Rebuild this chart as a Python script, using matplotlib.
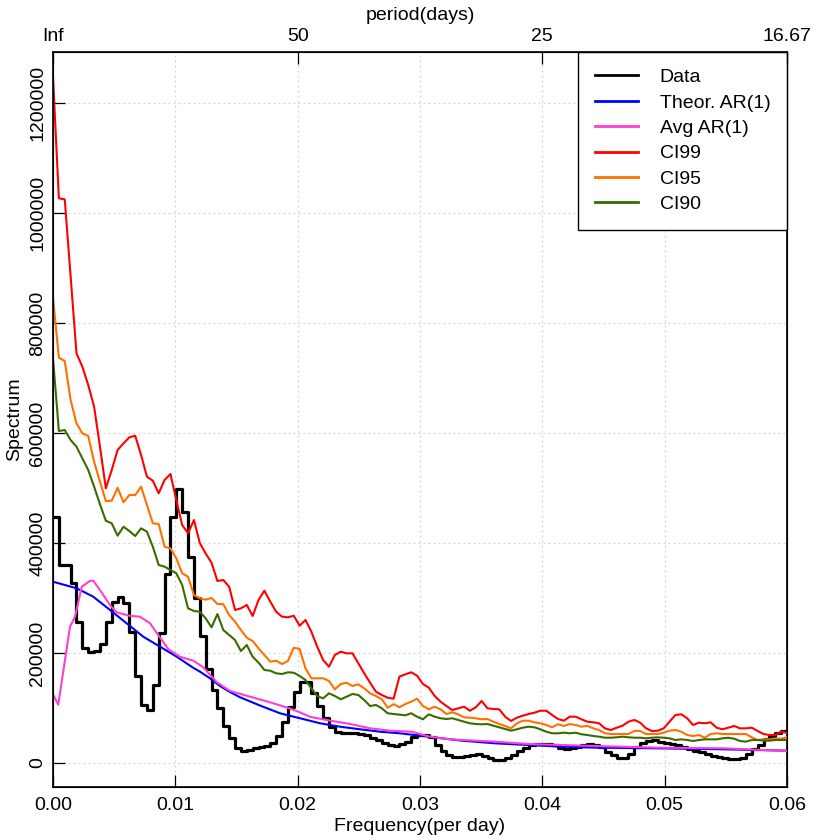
import numpy as np
import matplotlib
matplotlib.use('Agg')
import matplotlib.pyplot as plt

plt.rcParams['font.family'] = ['Liberation Sans', 'DejaVu Sans']
plt.rcParams['font.size'] = 14

# frequency grid (per day)
freq = np.round(np.arange(126) * 0.00048, 5)

data = [447800, 360000, 360000, 328000, 256900, 208500, 202400, 204000, 216000, 256900,
        292100, 301200, 291500, 237600, 158200, 105500, 96400, 141800, 235800, 343100,
        446700, 497600, 456900, 374000, 299400, 231500, 170900, 132700, 99400, 67300,
        44900, 27900, 21800, 23600, 26700, 28500, 30900, 36900, 49600, 74000,
        102400, 129600, 146700, 146700, 127800, 103600, 81300, 66000, 56900, 54000,
        54000, 54000, 52700, 50900, 46000, 41800, 35800, 32700, 30900, 34500,
        38800, 46700, 50900, 50900, 47000, 33000, 22000, 14000, 11500, 11500,
        13000, 15000, 15500, 13000, 9000, 5500, 5500, 9000, 14000, 22000,
        28000, 32000, 34500, 34500, 34500, 32000, 27000, 26000, 27000, 29000,
        33000, 35000, 33000, 29000, 20600, 14500, 9700, 9700, 15800, 28500,
        35800, 40000, 41800, 38800, 36900, 34500, 32700, 28500, 24900, 22400,
        19400, 15800, 13300, 11500, 8500, 7300, 6700, 8500, 15800, 24900,
        32700, 43600, 49100, 55100, 58700, 58700]

ci99 = [1247000, 1026700, 1024800, 885000, 744900, 720500, 687200, 647800, 575000, 499400,
        532700, 569000, 581200, 592100, 595000, 560000, 520500, 513200, 490300, 514500,
        525400, 478100, 432700, 417600, 441800, 400000, 381000, 364000, 331000, 332700,
        320500, 278200, 281200, 287300, 267300, 296300, 313300, 293300, 275100, 266000,
        264900, 267800, 249600, 260000, 238700, 211500, 187300, 175100, 196400, 202400,
        199400, 199400, 181300, 163100, 146000, 129600, 123600, 118700, 116900, 157000,
        161200, 164900, 158800, 143600, 137000, 121800, 111500, 103600, 96400, 99400,
        102400, 95100, 101300, 112700, 99400, 98200, 97600, 84200, 76400, 82400,
        86000, 89100, 91500, 95100, 95100, 87300, 80000, 76900, 84200, 84200,
        79500, 75100, 74000, 72200, 63000, 60000, 64200, 67800, 75100, 78200,
        73300, 63000, 58200, 58700, 63000, 75100, 87300, 88500, 81300, 69100,
        73300, 72200, 74000, 64200, 61300, 64200, 67300, 63000, 63000, 64200,
        58200, 52700, 50900, 50900, 56900, 55100]

ci95 = [846000, 736900, 730900, 660000, 617600, 599400, 594500, 547800, 511400, 476300,
        476900, 500500, 474000, 487300, 487300, 502400, 469100, 435800, 434500, 393300,
        390300, 372200, 344900, 338700, 305400, 299400, 297000, 300000, 289100, 288800,
        269100, 256900, 241800, 227800, 221800, 208500, 196400, 184200, 186000, 180000,
        185500, 209600, 207300, 172200, 154000, 154000, 154000, 149100, 134000, 143600,
        146000, 140000, 143100, 135800, 126700, 121800, 115800, 100500, 107000, 101300,
        107300, 111500, 116900, 103600, 97600, 102400, 97600, 89100, 92200, 88500,
        83100, 82400, 81300, 79500, 80000, 75100, 70900, 67300, 63000, 72200,
        76900, 76900, 74000, 72200, 69100, 64900, 70400, 67300, 70900, 69100,
        66000, 67500, 63000, 60000, 54000, 52700, 52700, 52700, 52700, 58200,
        58200, 52700, 52700, 52700, 55100, 58700, 60000, 56900, 50900, 49100,
        50900, 46000, 52700, 54000, 52700, 52700, 52700, 52700, 52700, 46700,
        41800, 43000, 43000, 44800, 44200, 46700]

ci90 = [735800, 603600, 605400, 587300, 575100, 554000, 532700, 502400, 470300, 440500,
        435800, 413300, 429600, 421800, 412700, 426700, 420500, 393300, 360000, 357000,
        350900, 344900, 323600, 281200, 276400, 275000, 263000, 246700, 270900, 241800,
        232700, 223600, 203600, 214500, 193300, 182400, 169100, 167800, 163100, 161800,
        164900, 164200, 158200, 150900, 135800, 121800, 117600, 126700, 121800, 115800,
        120600, 125500, 123600, 114500, 103600, 105500, 99400, 90400, 89100, 87900,
        86700, 90400, 84200, 79500, 88500, 84200, 81300, 80000, 81300, 78200,
        75100, 72200, 70900, 70400, 70900, 67800, 64900, 61800, 58700, 61300,
        64200, 66000, 64900, 61300, 56900, 54000, 54000, 55100, 54000, 55100,
        52200, 50900, 49100, 47900, 46000, 46000, 46700, 47900, 46700, 46000,
        46000, 44800, 46000, 46700, 46000, 44800, 41800, 43000, 41800, 40000,
        41800, 43000, 43000, 43000, 44800, 46000, 44200, 40000, 38800, 41800,
        41800, 40600, 40600, 41800, 41800, 41800]

theor_freq = [0.0, 0.00194, 0.00329, 0.00466, 0.00602, 0.00738, 0.00875, 0.01011, 0.01147,
              0.01202, 0.01283, 0.01365, 0.01447, 0.01529, 0.01692, 0.01856, 0.0202, 0.02183,
              0.02346, 0.0251, 0.02673, 0.02837, 0.03068, 0.03341, 0.03613, 0.03885, 0.04158,
              0.04431, 0.04935, 0.05479, 0.06]
theor = [329600, 317600, 302400, 278200, 254000, 229600, 211500, 193300, 173000,
         166000, 154000, 140000, 129000, 119500, 104500, 90400, 81300, 72200,
         66000, 61300, 56900, 54000, 47900, 40600, 35800, 32700, 29700,
         27900, 26700, 24900, 22400]

avg_freq = [0.0, 0.00043, 0.00139, 0.0018, 0.00235, 0.00302, 0.00329, 0.00384, 0.00466,
            0.0052, 0.00629, 0.00711, 0.00793, 0.0086, 0.00943, 0.01038, 0.01147, 0.01229,
            0.01338, 0.01447, 0.0161, 0.01774, 0.01937, 0.0202, 0.02101, 0.02264, 0.02428,
            0.02591, 0.02755, 0.02932, 0.03068, 0.03204, 0.03341, 0.03613, 0.03885, 0.04158,
            0.04431, 0.04935, 0.05479, 0.06]
avg = [125000, 106000, 247800, 266000, 320500, 331000, 331500, 314500, 287000,
       274000, 267500, 266000, 254000, 232700, 207000, 193000, 186000, 174000,
       147000, 131000, 120600, 110400, 99000, 92000, 84000, 77000, 71000,
       63100, 58700, 56900, 48500, 44000, 41800, 38800, 34500, 32700,
       30900, 27900, 26700, 21800]

xticks = [0.0, 0.01, 0.02, 0.03, 0.04, 0.05, 0.06]
xticklabels = ['0.00', '0.01', '0.02', '0.03', '0.04', '0.05', '0.06']
yticks = [0, 200000, 400000, 600000, 800000, 1000000, 1200000]
yticklabels = ['0', '200000', '400000', '600000', '800000', '1000000', '1200000']
period_ticks = [0.0, 0.02, 0.04, 0.06]
period_labels = ['Inf', '50', '25', '16.67']

fig = plt.figure(figsize=(8.4, 8.4), dpi=100)
ax = fig.add_axes([53/840, 53/840, 734/840, 735/840])

ax.plot(freq, data, drawstyle='steps-post', color='black', lw=2.3, label='Data', zorder=2)
ax.plot(theor_freq, theor, color='#0000ff', lw=1.5, label='Theor. AR(1)', zorder=3)
ax.plot(avg_freq, avg, color='#ff3fd0', lw=1.5, label='Avg AR(1)', zorder=3)
ax.plot(freq, ci99, color='#ff0000', lw=1.5, label='CI99', zorder=3)
ax.plot(freq, ci95, color='#ff7000', lw=1.5, label='CI95', zorder=3)
ax.plot(freq, ci90, color='#3a6b00', lw=1.5, label='CI90', zorder=3)

ax.set_xlim(0, 0.06)
ax.set_ylim(-43636, 1292727)
ax.set_xticks(xticks)
ax.set_xticklabels(xticklabels)
ax.set_yticks(yticks)
ax.set_yticklabels(yticklabels, rotation=90, va='center')
ax.tick_params(direction='in', length=8.6, width=0.9, pad=5)
ax.tick_params(axis='x', pad=7)
ax.grid(True, color='#d3d3d3', linestyle=(0, (1.5, 2.5)), linewidth=0.9)
ax.set_axisbelow(True)
for s in ax.spines.values():
    s.set_linewidth(1.2)

ax.set_xlabel('Frequency(per day)', labelpad=3)
ax.set_ylabel('Spectrum', labelpad=4)

ax2 = ax.twiny()
ax2.set_xlim(ax.get_xlim())
ax2.set_xticks(period_ticks)
ax2.set_xticklabels(period_labels)
ax2.tick_params(direction='in', length=8.6, width=0.9, pad=5)
ax2.set_xlabel('period(days)', labelpad=6)

leg = ax.legend(loc='upper right', borderaxespad=0, fancybox=False, edgecolor='black',
                framealpha=1, handlelength=2.25, handletextpad=1.1, labelspacing=0.4,
                borderpad=0.85)
leg.get_frame().set_linewidth(1.0)
for line in leg.get_lines():
    line.set_linewidth(2.0)

fig.savefig('out.png', dpi=100)
